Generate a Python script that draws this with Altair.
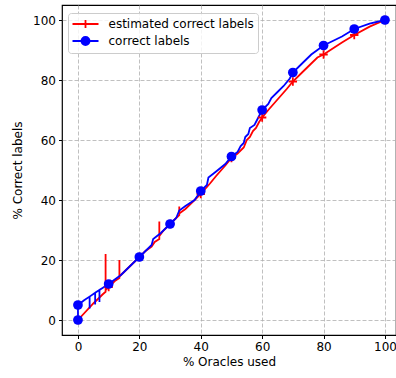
import altair as alt
import pandas as pd

# ---- data ----
red_x = [0, 5, 8, 9, 9, 9, 10, 12, 13.5, 13.5, 13.5, 16, 18, 20, 22, 24, 25, 26.5, 26.5, 26.5,
         28, 30, 32, 33, 33, 33, 35, 38, 40, 43, 45, 48, 50, 52, 54, 55, 56, 57, 58, 59, 60,
         62, 65, 68, 70, 73, 76, 78, 80, 83, 86, 90, 95, 100]
red_y = [0, 5.5, 8.5, 9.4, 22, 10, 11, 13, 14, 20, 14.5, 17, 19, 21, 23, 24.5, 26, 27, 32.8, 28,
         30, 32, 34, 35, 37.8, 35.5, 37, 40, 42, 45.5, 48, 51.5, 54, 55.5, 57.5, 60, 61, 63, 64, 66, 67.5,
         70, 73.5, 77, 79.5, 82.5, 85.5, 87.5, 88.5, 90.5, 92.5, 95, 97.8, 100]

blue_x = [0, 0, 2, 3.8, 3.8, 3.8, 5.6, 5.6, 5.6, 7, 7, 7, 8, 10, 12, 14, 16, 18, 20, 22, 24,
          24.5, 27, 29, 30, 32, 33, 35, 38, 40, 42, 42.5, 45, 48, 50, 52, 53, 54, 54.5, 55.5,
          56, 57.5, 58.5, 59, 60, 62, 63, 65, 67, 69, 70, 72, 74, 76, 78, 80, 83, 86, 90, 95, 100]
blue_y = [0, 5, 6.6, 7.8, 3.8, 7.8, 9.1, 5.2, 9.1, 10, 6, 10, 10.7, 12, 13.5, 15, 17, 19, 21, 23, 25,
          27, 29, 31, 32, 34, 36.5, 38, 40, 43, 45, 47.5, 49.5, 52, 54.5, 56, 58, 59, 61, 62,
          64, 65, 67, 68, 70, 72, 74, 76, 78, 80.5, 82.5, 84.5, 86.5, 88.5, 90, 91.5, 93, 94.5, 97, 98.8, 100]

red_marker_x = [0, 10, 20, 30, 40, 50, 60, 70, 80, 90, 100]
red_marker_y = [0, 11, 21, 32, 42, 54, 67.5, 79.5, 88.5, 95, 100]
blue_marker_x = [0, 0, 10, 20, 30, 40, 50, 60, 70, 80, 90, 100]
blue_marker_y = [0, 5, 12, 21, 32, 43, 54.5, 70, 82.5, 91.5, 97, 100]

series_names = ["estimated correct labels", "correct labels"]
series_colors = ["#ff0000", "#0000ff"]
x_ticks = [0, 20, 40, 60, 80, 100]
y_ticks = [0, 20, 40, 60, 80, 100]

red_df = pd.DataFrame({"x": red_x, "y": red_y, "i": range(len(red_x))})
blue_df = pd.DataFrame({"x": blue_x, "y": blue_y, "i": range(len(blue_x))})
red_m = pd.DataFrame({"x": red_marker_x, "y": red_marker_y})
blue_m = pd.DataFrame({"x": blue_marker_x, "y": blue_marker_y})
legend_df = pd.DataFrame({"x": [red_marker_x[-1], blue_marker_x[-1]],
                          "y": [red_marker_y[-1], blue_marker_y[-1]],
                          "series": series_names})

xscale = alt.Scale(domain=[-5.2, 103.6], nice=False, zero=False)
yscale = alt.Scale(domain=[-5, 105], nice=False, zero=False)

xenc = alt.X("x:Q", scale=xscale,
             axis=alt.Axis(title="% Oracles used", values=x_ticks, format="d"))
yenc = alt.Y("y:Q", scale=yscale,
             axis=alt.Axis(title="% Correct labels", values=y_ticks, format="d"))

plus_path = "M-1,0L1,0M0,-1L0,1"
leg_red = "M-1,0L3,0M1,-0.62L1,0.62"
leg_blue = ("M-1,0L3,0M0.38,0A0.62,0.62,0,1,1,1.62,0"
            "A0.62,0.62,0,1,1,0.38,0Z")

red_line = alt.Chart(red_df).mark_line(color=series_colors[0], strokeWidth=1.8).encode(
    x=xenc, y=yenc, order=alt.Order("i:Q"))
blue_line = alt.Chart(blue_df).mark_line(color=series_colors[1], strokeWidth=1.8).encode(
    x=xenc, y=yenc, order=alt.Order("i:Q"))

red_pts = alt.Chart(red_m).mark_point(
    shape=plus_path, size=70, color=series_colors[0], strokeWidth=1.8, filled=False, opacity=1
).encode(x=xenc, y=yenc)
blue_pts = alt.Chart(blue_m).mark_point(
    shape="circle", size=95, color=series_colors[1], filled=True, opacity=1
).encode(x=xenc, y=yenc)

leg = alt.Legend(
    title=None, orient="none", legendX=6, legendY=8,
    symbolSize=169, symbolStrokeWidth=1.8, symbolOpacity=1,
    labelOffset=22, labelFontSize=12, labelFont="DejaVu Sans", labelColor="black",
    padding=3.5, rowPadding=0, strokeColor="#cccccc", fillColor="rgba(255,255,255,0.8)",
    cornerRadius=3,
)
legend_layer = alt.Chart(legend_df).mark_point(opacity=0).encode(
    x=xenc, y=yenc,
    fill=alt.Fill("series:N", scale=alt.Scale(domain=series_names, range=series_colors), legend=leg),
    stroke=alt.Stroke("series:N", scale=alt.Scale(domain=series_names, range=series_colors), legend=leg),
    shape=alt.Shape("series:N", scale=alt.Scale(domain=series_names, range=[leg_red, leg_blue]), legend=leg),
)

chart = alt.layer(red_line, blue_line, red_pts, blue_pts, legend_layer).properties(
    width=334, height=330,
    autosize=alt.AutoSizeParams(type="none"),
    padding={"left": 62, "top": 5, "right": 0, "bottom": 43},
    background="white",
).configure_view(
    stroke="black", strokeWidth=1.2
).configure_axis(
    grid=True, gridColor="#b0b0b0", gridDash=[4, 2], gridWidth=0.8,
    domain=False, ticks=True, tickColor="black", tickSize=3.5, tickWidth=1,
    labelFont="DejaVu Sans", labelFontSize=12, labelColor="black", labelPadding=3,
    titleFont="DejaVu Sans", titleFontSize=12, titleFontWeight="normal", titleColor="black",
).configure_axisX(titlePadding=4).configure_axisY(titlePadding=8)

chart.save("out.html", embed_options={"renderer": "svg", "actions": False})
